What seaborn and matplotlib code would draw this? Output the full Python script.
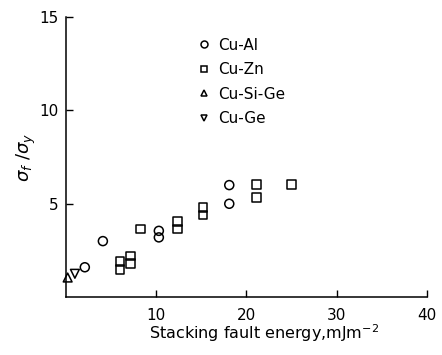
import matplotlib
matplotlib.use("Agg")
import matplotlib.pyplot as plt
from matplotlib.lines import Line2D
import seaborn as sns

# Stacking fault energy (mJ m^-2) vs fracture/yield stress ratio
cu_al_x = [2.1, 4.1, 10.3, 10.3, 18.1, 18.1]
cu_al_y = [1.6, 3.0, 3.55, 3.2, 6.0, 5.0]

cu_zn_x = [6.0, 6.0, 7.2, 7.2, 8.3, 12.4, 12.4, 15.2, 15.2, 21.1, 21.1, 25.0]
cu_zn_y = [1.9, 1.5, 2.2, 1.8, 3.65, 4.05, 3.65, 4.8, 4.4, 6.05, 5.35, 6.05]

cu_sige_x = [0.2]
cu_sige_y = [1.05]

cu_ge_x = [1.0]
cu_ge_y = [1.25]

labels = ["Cu-Al", "Cu-Zn", "Cu-Si-Ge", "Cu-Ge"]
x_ticks = [10, 20, 30, 40]
y_ticks = [5, 10, 15]

sns.set_style("ticks")
plt.rcParams["font.family"] = ["DejaVu Sans"]
plt.rcParams["text.color"] = "black"
plt.rcParams["axes.labelcolor"] = "black"

fig = plt.figure(figsize=(4.42, 3.55), dpi=100)
ax = fig.add_axes([0.149, 0.163, 0.817, 0.789])

series = [
    (cu_al_x, cu_al_y, "o", 42),
    (cu_zn_x, cu_zn_y, "s", 40),
    (cu_sige_x, cu_sige_y, "^", 40),
    (cu_ge_x, cu_ge_y, "v", 40),
]
for xs, ys, mk, size in series:
    sns.scatterplot(x=xs, y=ys, marker=mk, s=size, facecolor="none",
                    edgecolor="black", linewidth=1.1, ax=ax, clip_on=False,
                    zorder=3)

ax.set_xlim(0, 40)
ax.set_ylim(0, 15)
ax.set_xticks(x_ticks)
ax.set_yticks(y_ticks)
ax.tick_params(direction="in", length=5, width=1, labelsize=11,
               colors="black", labelcolor="black")
ax.tick_params(axis="x", pad=8)
ax.tick_params(axis="y", pad=5)
for side in ("top", "right"):
    ax.spines[side].set_visible(False)
for side in ("left", "bottom"):
    ax.spines[side].set_linewidth(1.1)
    ax.spines[side].set_color("black")

ax.set_xlabel("Stacking fault energy,mJm$^{-2}$", fontsize=11.5)
ax.xaxis.set_label_coords(0.55, -0.09)
ax.set_ylabel(r"$\sigma_f\ /\sigma_y$", fontsize=13, labelpad=1)

handles = [
    Line2D([], [], marker=m, linestyle="none", markerfacecolor="none",
           markeredgecolor="black", markersize=5, markeredgewidth=1.1)
    for m in ("o", "s", "^", "v")
]
ax.legend(handles, labels, loc="upper left", bbox_to_anchor=(0.32, 0.975),
          frameon=False, fontsize=11, labelspacing=0.62,
          handletextpad=0.3, handlelength=1.2)

fig.savefig("out.png", dpi=100, facecolor="white")
